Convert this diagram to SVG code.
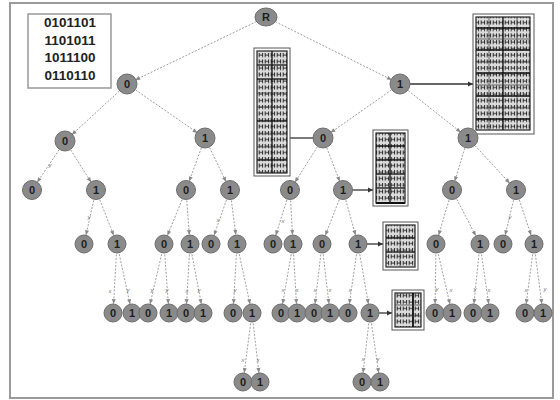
<svg xmlns="http://www.w3.org/2000/svg" width="560" height="400" viewBox="0 0 560 400">
<style>
.n circle,.n ellipse{fill:#8a8a8a;stroke:#6e6e6e;stroke-width:1}
.n text{font-family:"Liberation Sans",Arial,sans-serif;font-size:11px;font-weight:bold;fill:#1e1e1e;text-anchor:middle}
.e line{stroke:#a0a0a0;stroke-width:1;stroke-dasharray:2 1.5;marker-end:url(#ah)}
.lb{font-family:"Liberation Sans",Arial,sans-serif;font-size:6px;font-style:italic;fill:#777;text-anchor:middle}
.a line{stroke:#333;stroke-width:1.3}
.bx .o{fill:#fff;stroke:#555;stroke-width:1}
.bx .i{fill:url(#cells);stroke:#222;stroke-width:1.2}
.bx .g{stroke:#111;stroke-width:1.3}
.bx .t{stroke:#333;stroke-width:0.7}
.bin{font-family:"Liberation Sans",Arial,sans-serif;font-size:13.5px;font-weight:bold;fill:#222;text-anchor:middle}
</style>
<defs>
<marker id="ah" markerUnits="userSpaceOnUse" markerWidth="20" markerHeight="6" refX="14" refY="0" orient="auto" overflow="visible"><path d="M0,-2 L5,0 L0,2 z" fill="#888"/></marker>
<marker id="as" markerUnits="userSpaceOnUse" markerWidth="6" markerHeight="6" refX="5" refY="0" orient="auto" overflow="visible"><path d="M0,-2.5 L5,0 L0,2.5 z" fill="#333"/></marker>
<pattern id="cells" patternUnits="userSpaceOnUse" width="6" height="6.5"><rect width="6" height="6.5" fill="#dcdcdc"/><path d="M1.2,1 V5.2 M1.2,3 H4.6 M4.6,1 V5.2" fill="none" stroke="#2a2a2a" stroke-width="1"/></pattern>
</defs>
<rect x="0" y="0" width="560" height="400" fill="#fff"/>
<rect x="10" y="3" width="543" height="395" fill="#fff" stroke="#9a9a9a" stroke-width="2"/>

<g id="bits">
<rect x="28" y="14" width="83" height="74" fill="#fff" stroke="#999" stroke-width="1.5"/>
<text class="bin" x="70" y="27">0101101</text>
<text class="bin" x="70" y="45">1101011</text>
<text class="bin" x="70" y="62">1011100</text>
<text class="bin" x="70" y="80">0110110</text>
</g>

<g id="connectors">
<g class="e">
<line x1="266" y1="17" x2="127" y2="84"/><line x1="266" y1="17" x2="400" y2="84"/>
<line x1="127" y1="84" x2="65" y2="141"/><line x1="127" y1="84" x2="205" y2="138"/>
<line x1="400" y1="84" x2="323" y2="138"/><line x1="400" y1="84" x2="468" y2="138"/>
<line x1="65" y1="141" x2="32" y2="190"/><line x1="65" y1="141" x2="96" y2="190"/>
<line x1="205" y1="138" x2="186" y2="190"/><line x1="205" y1="138" x2="230" y2="190"/>
<line x1="323" y1="138" x2="290" y2="190"/><line x1="323" y1="138" x2="343" y2="190"/>
<line x1="468" y1="138" x2="452" y2="190"/><line x1="468" y1="138" x2="516" y2="190"/>
<line x1="96" y1="190" x2="84" y2="244"/><line x1="96" y1="190" x2="117" y2="244"/>
<line x1="186" y1="190" x2="164" y2="244"/><line x1="186" y1="190" x2="190" y2="244"/>
<line x1="230" y1="190" x2="211" y2="244"/><line x1="230" y1="190" x2="237" y2="244"/>
<line x1="290" y1="190" x2="273" y2="244"/><line x1="290" y1="190" x2="293" y2="244"/>
<line x1="343" y1="190" x2="322" y2="244"/><line x1="343" y1="190" x2="358" y2="244"/>
<line x1="452" y1="190" x2="436" y2="244"/><line x1="452" y1="190" x2="480" y2="244"/>
<line x1="516" y1="190" x2="503" y2="244"/><line x1="516" y1="190" x2="534" y2="244"/>
<line x1="117" y1="244" x2="113" y2="313"/><line x1="117" y1="244" x2="132" y2="313"/>
<line x1="164" y1="244" x2="148" y2="313"/><line x1="164" y1="244" x2="169" y2="313"/>
<line x1="190" y1="244" x2="186" y2="313"/><line x1="190" y1="244" x2="203" y2="313"/>
<line x1="237" y1="244" x2="233" y2="313"/><line x1="237" y1="244" x2="252" y2="313"/>
<line x1="293" y1="244" x2="281" y2="313"/><line x1="293" y1="244" x2="297" y2="313"/>
<line x1="322" y1="244" x2="314" y2="313"/><line x1="322" y1="244" x2="330" y2="313"/>
<line x1="358" y1="244" x2="348" y2="313"/><line x1="358" y1="244" x2="370" y2="313"/>
<line x1="436" y1="244" x2="435" y2="313"/><line x1="436" y1="244" x2="452" y2="313"/>
<line x1="480" y1="244" x2="473" y2="313"/><line x1="480" y1="244" x2="490" y2="313"/>
<line x1="534" y1="244" x2="525" y2="313"/><line x1="534" y1="244" x2="543" y2="313"/>
<line x1="252" y1="313" x2="243" y2="382"/><line x1="252" y1="313" x2="260" y2="382"/>
<line x1="370" y1="313" x2="362" y2="382"/><line x1="370" y1="313" x2="380" y2="382"/>
</g>
<g class="a">
<line x1="410" y1="84" x2="473" y2="84" marker-end="url(#as)"/>
<line x1="314" y1="138" x2="289" y2="138"/>
<line x1="352" y1="190" x2="373" y2="190" marker-end="url(#as)"/>
<line x1="367" y1="244" x2="383" y2="244" marker-end="url(#as)"/>
<line x1="379" y1="313" x2="392" y2="313" marker-end="url(#as)"/>
</g>
<g id="edge-labels">
<text class="lb" x="50" y="167">y</text><text class="lb" x="89" y="219">y</text>
<text class="lb" x="218" y="222">x</text><text class="lb" x="283" y="223">x</text>
<text class="lb" x="510" y="219">y</text>
<text class="lb" x="110" y="293">x</text><text class="lb" x="128" y="292">y</text>
<text class="lb" x="152" y="292">y</text><text class="lb" x="167" y="292">y</text>
<text class="lb" x="187" y="293">x</text><text class="lb" x="199" y="292">y</text>
<text class="lb" x="235" y="292">y</text>
<text class="lb" x="283" y="292">x</text><text class="lb" x="297" y="292">x</text>
<text class="lb" x="315" y="292">x</text><text class="lb" x="330" y="292">x</text>
<text class="lb" x="350" y="292">x</text>
<text class="lb" x="437" y="291">y</text><text class="lb" x="451" y="292">x</text>
<text class="lb" x="475" y="291">y</text><text class="lb" x="489" y="292">x</text>
<text class="lb" x="526" y="292">x</text><text class="lb" x="545" y="291">y</text>
<text class="lb" x="243" y="362">x</text><text class="lb" x="258" y="362">x</text>
<text class="lb" x="363" y="361">x</text><text class="lb" x="378" y="361">y</text>
</g>
</g>

<g id="table-a" class="bx">
<rect class="o" x="254" y="48" width="36" height="128"/>
<rect class="i" x="257" y="51" width="30" height="122"/>
<line class="g" x1="272" y1="51" x2="272" y2="173"/>
<line class="g" x1="257" y1="65" x2="287" y2="65"/><line class="g" x1="257" y1="79" x2="287" y2="79"/>
<line class="t" x1="257" y1="93" x2="287" y2="93"/><line class="t" x1="257" y1="107" x2="287" y2="107"/>
<line class="g" x1="257" y1="121" x2="287" y2="121"/><line class="t" x1="257" y1="134" x2="287" y2="134"/>
<line class="t" x1="257" y1="147" x2="287" y2="147"/><line class="g" x1="257" y1="160" x2="287" y2="160"/>
</g>

<g id="table-b" class="bx">
<rect class="o" x="473" y="14" width="61" height="120"/>
<rect class="i" x="476" y="17" width="54" height="113"/>
<line class="g" x1="503" y1="17" x2="503" y2="130"/>
<line class="t" x1="489" y1="17" x2="489" y2="130"/><line class="t" x1="517" y1="17" x2="517" y2="130"/>
<line class="g" x1="476" y1="28" x2="530" y2="28"/><line class="t" x1="476" y1="39" x2="530" y2="39"/>
<line class="g" x1="476" y1="50" x2="530" y2="50"/><line class="t" x1="476" y1="62" x2="530" y2="62"/>
<line class="g" x1="476" y1="73" x2="530" y2="73"/><line class="t" x1="476" y1="85" x2="530" y2="85"/>
<line class="g" x1="476" y1="96" x2="530" y2="96"/><line class="t" x1="476" y1="108" x2="530" y2="108"/>
<line class="g" x1="476" y1="119" x2="530" y2="119"/>
</g>

<g id="table-c" class="bx">
<rect class="o" x="373" y="130" width="35" height="76"/>
<rect class="i" x="376" y="133" width="29" height="70"/>
<line class="g" x1="390" y1="133" x2="390" y2="203"/>
<line class="g" x1="376" y1="146" x2="405" y2="146"/><line class="g" x1="376" y1="160" x2="405" y2="160"/>
<line class="g" x1="376" y1="174" x2="405" y2="174"/><line class="g" x1="376" y1="188" x2="405" y2="188"/>
<line class="g" x1="376" y1="203" x2="405" y2="203" style="stroke-width:2"/>
</g>

<g id="table-d" class="bx">
<rect class="o" x="383" y="222" width="35" height="48"/>
<rect class="i" x="386" y="225" width="29" height="42"/>
<line class="t" x1="400" y1="225" x2="400" y2="267"/>
<line class="g" x1="386" y1="238" x2="415" y2="238"/><line class="g" x1="386" y1="252" x2="415" y2="252"/>
</g>

<g id="table-e" class="bx">
<rect class="o" x="392" y="290" width="32" height="40"/>
<rect class="i" x="395" y="293" width="26" height="34"/>
<line class="g" x1="413" y1="293" x2="413" y2="327" style="stroke-width:1.8"/>
<line class="t" x1="395" y1="305" x2="421" y2="305"/><line class="t" x1="395" y1="316" x2="421" y2="316"/>
</g>

<g id="root" class="n"><ellipse cx="266" cy="17" rx="11" ry="9"/><text x="266" y="21">R</text></g>
<g id="n0" class="n"><circle cx="127" cy="84" r="10"/><text x="127" y="88">0</text></g>
<g id="n1" class="n"><circle cx="400" cy="84" r="10"/><text x="400" y="88">1</text></g>
<g id="n00" class="n"><circle cx="65" cy="141" r="10"/><text x="65" y="145">0</text></g>
<g id="n01" class="n"><circle cx="205" cy="138" r="10"/><text x="205" y="142">1</text></g>
<g id="n10" class="n"><circle cx="323" cy="138" r="10"/><text x="323" y="142">0</text></g>
<g id="n11" class="n"><circle cx="468" cy="138" r="10"/><text x="468" y="142">1</text></g>
<g id="n000" class="n"><circle cx="32" cy="190" r="9.5"/><text x="32" y="194">0</text></g>
<g id="n001" class="n"><circle cx="96" cy="190" r="9.5"/><text x="96" y="194">1</text></g>
<g id="n010" class="n"><circle cx="186" cy="190" r="9.5"/><text x="186" y="194">0</text></g>
<g id="n011" class="n"><circle cx="230" cy="190" r="9.5"/><text x="230" y="194">1</text></g>
<g id="n100" class="n"><circle cx="290" cy="190" r="9.5"/><text x="290" y="194">0</text></g>
<g id="n101" class="n"><circle cx="343" cy="190" r="9.5"/><text x="343" y="194">1</text></g>
<g id="n110" class="n"><circle cx="452" cy="190" r="9.5"/><text x="452" y="194">0</text></g>
<g id="n111" class="n"><circle cx="516" cy="190" r="9.5"/><text x="516" y="194">1</text></g>
<g id="n0010" class="n"><circle cx="84" cy="244" r="9"/><text x="84" y="248">0</text></g>
<g id="n0011" class="n"><circle cx="117" cy="244" r="9"/><text x="117" y="248">1</text></g>
<g id="n0100" class="n"><circle cx="164" cy="244" r="9"/><text x="164" y="248">0</text></g>
<g id="n0101" class="n"><circle cx="190" cy="244" r="9"/><text x="190" y="248">1</text></g>
<g id="n0110" class="n"><circle cx="211" cy="244" r="9"/><text x="211" y="248">0</text></g>
<g id="n0111" class="n"><circle cx="237" cy="244" r="9"/><text x="237" y="248">1</text></g>
<g id="n1000" class="n"><circle cx="273" cy="244" r="9"/><text x="273" y="248">0</text></g>
<g id="n1001" class="n"><circle cx="293" cy="244" r="9"/><text x="293" y="248">1</text></g>
<g id="n1010" class="n"><circle cx="322" cy="244" r="9"/><text x="322" y="248">0</text></g>
<g id="n1011" class="n"><circle cx="358" cy="244" r="9"/><text x="358" y="248">1</text></g>
<g id="n1100" class="n"><circle cx="436" cy="244" r="9"/><text x="436" y="248">0</text></g>
<g id="n1101" class="n"><circle cx="480" cy="244" r="9"/><text x="480" y="248">1</text></g>
<g id="n1110" class="n"><circle cx="503" cy="244" r="9"/><text x="503" y="248">0</text></g>
<g id="n1111" class="n"><circle cx="534" cy="244" r="9"/><text x="534" y="248">1</text></g>
<g id="n00110" class="n"><circle cx="113" cy="313" r="9"/><text x="113" y="317">0</text></g>
<g id="n00111" class="n"><circle cx="132" cy="313" r="9"/><text x="132" y="317">1</text></g>
<g id="n01000" class="n"><circle cx="148" cy="313" r="9"/><text x="148" y="317">0</text></g>
<g id="n01001" class="n"><circle cx="169" cy="313" r="9"/><text x="169" y="317">1</text></g>
<g id="n01010" class="n"><circle cx="186" cy="313" r="9"/><text x="186" y="317">0</text></g>
<g id="n01011" class="n"><circle cx="203" cy="313" r="9"/><text x="203" y="317">1</text></g>
<g id="n01110" class="n"><circle cx="233" cy="313" r="9"/><text x="233" y="317">0</text></g>
<g id="n01111" class="n"><circle cx="252" cy="313" r="9"/><text x="252" y="317">1</text></g>
<g id="n10010" class="n"><circle cx="281" cy="313" r="9"/><text x="281" y="317">0</text></g>
<g id="n10011" class="n"><circle cx="297" cy="313" r="9"/><text x="297" y="317">1</text></g>
<g id="n10100" class="n"><circle cx="314" cy="313" r="9"/><text x="314" y="317">0</text></g>
<g id="n10101" class="n"><circle cx="330" cy="313" r="9"/><text x="330" y="317">1</text></g>
<g id="n10110" class="n"><circle cx="348" cy="313" r="9"/><text x="348" y="317">0</text></g>
<g id="n10111" class="n"><circle cx="370" cy="313" r="9"/><text x="370" y="317">1</text></g>
<g id="n11000" class="n"><circle cx="435" cy="313" r="9"/><text x="435" y="317">0</text></g>
<g id="n11001" class="n"><circle cx="452" cy="313" r="9"/><text x="452" y="317">1</text></g>
<g id="n11010" class="n"><circle cx="473" cy="313" r="9"/><text x="473" y="317">0</text></g>
<g id="n11011" class="n"><circle cx="490" cy="313" r="9"/><text x="490" y="317">1</text></g>
<g id="n11110" class="n"><circle cx="525" cy="313" r="9"/><text x="525" y="317">0</text></g>
<g id="n11111" class="n"><circle cx="543" cy="313" r="9"/><text x="543" y="317">1</text></g>
<g id="n011110" class="n"><circle cx="243" cy="382" r="9"/><text x="243" y="386">0</text></g>
<g id="n011111" class="n"><circle cx="260" cy="382" r="9"/><text x="260" y="386">1</text></g>
<g id="n101110" class="n"><circle cx="362" cy="382" r="9"/><text x="362" y="386">0</text></g>
<g id="n101111" class="n"><circle cx="380" cy="382" r="9"/><text x="380" y="386">1</text></g>
</svg>
